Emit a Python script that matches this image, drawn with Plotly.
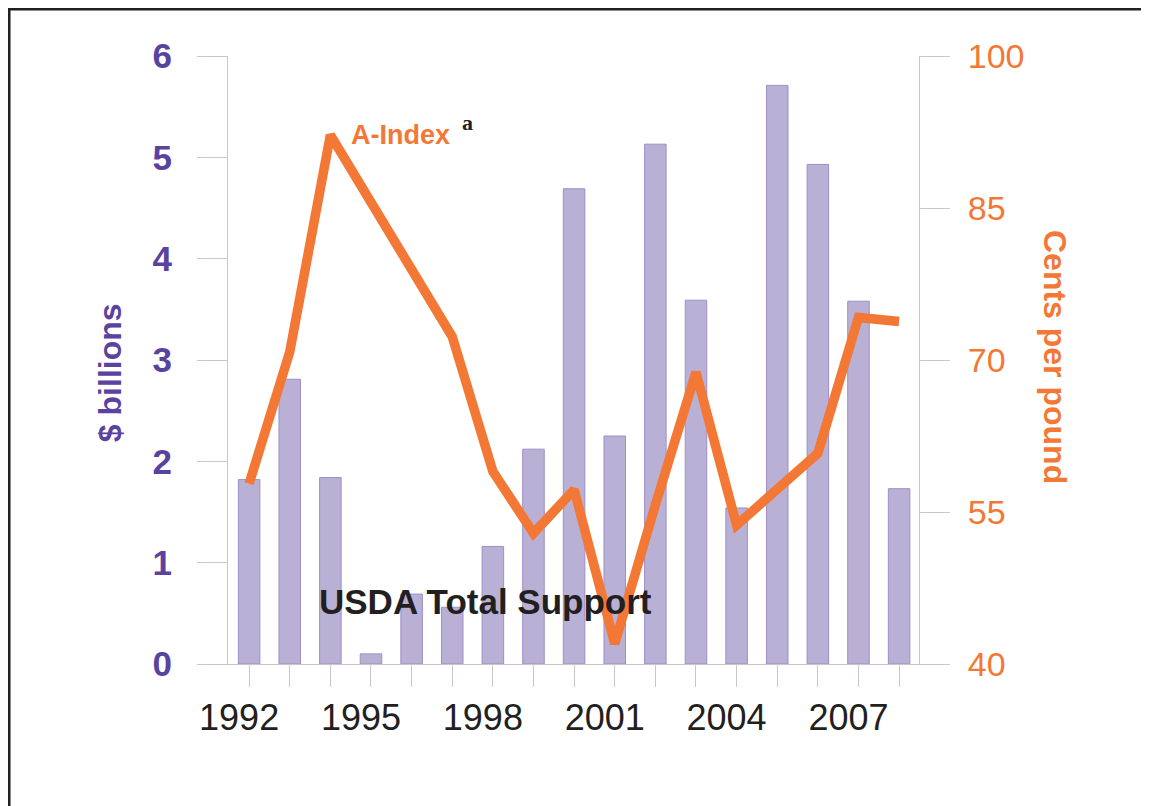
import plotly.graph_objects as go

years = list(range(1992, 2009))
usda_support = [1.82, 2.81, 1.84, 0.10, 0.69, 0.56, 1.16, 2.12, 4.69, 2.25,
                5.13, 3.59, 1.54, 5.71, 4.93, 3.58, 1.73]
a_index = [57.8, 70.8, 92.2, 85.6, 79.0, 72.3, 59.0, 52.9, 57.2, 42.0,
           55.7, 68.8, 53.7, 57.3, 60.8, 74.2, 73.8]
xtick_labels = [str(y) + "\u00a0\u00a0" if (y - 1992) % 3 == 0 else "" for y in years]

PURPLE = "#5a43a0"
ORANGE = "#f47835"
BAR = "#b9b0d6"
BAR_EDGE = "#9d8fc6"
AXIS = "#cdc6c6"
DARK = "#231f20"
FONT = "Liberation Sans, Arial, sans-serif"

fig = go.Figure()
fig.add_trace(go.Bar(x=years, y=usda_support, width=0.53,
                     marker=dict(color=BAR, line=dict(color=BAR_EDGE, width=1)),
                     yaxis="y", showlegend=False, hoverinfo="skip"))
fig.add_trace(go.Scatter(x=years, y=a_index, mode="lines",
                         line=dict(color=ORANGE, width=9.5),
                         yaxis="y2", showlegend=False, hoverinfo="skip"))

fig.update_layout(
    width=1141, height=798, autosize=False,
    margin=dict(l=220, r=230, t=48, b=142),
    paper_bgcolor="white", plot_bgcolor="white",
    font=dict(family=FONT),
    xaxis=dict(range=[1991.48, 2008.49], tickmode="array", tickvals=years,
               ticktext=xtick_labels, ticks="outside", ticklen=22, tickwidth=1,
               tickcolor=AXIS, showline=True, linecolor=AXIS, linewidth=1,
               showgrid=False, zeroline=False,
               tickfont=dict(size=36, color=DARK, family=FONT)),
    yaxis=dict(range=[0, 6], tickvals=[0, 1, 2, 3, 4, 5, 6], ticks="outside",
               ticklen=30, tickcolor=AXIS, showline=True, linecolor=AXIS,
               showgrid=False, zeroline=False, ticklabelstandoff=18,
               tickfont=dict(size=35, color=PURPLE, family=FONT, weight="bold")),
    yaxis2=dict(range=[40, 100], tickvals=[40, 55, 70, 85, 100], overlaying="y",
                side="right", ticks="outside", ticklen=30, tickcolor=AXIS,
                showline=True, linecolor=AXIS, showgrid=False, zeroline=False,
                ticklabelstandoff=11,
                tickfont=dict(size=34, color=ORANGE, family=FONT)),
    annotations=[
        dict(text="<b>A-Index</b>", x=0.249, y=0.870, xref="paper", yref="paper",
             showarrow=False, font=dict(size=27, color=ORANGE, family=FONT),
             xanchor="center", yanchor="middle"),
        dict(text="<b>a</b>", x=0.347, y=0.890, xref="paper", yref="paper",
             showarrow=False, font=dict(size=22, color=DARK, family="Liberation Serif, Times New Roman, serif"),
             xanchor="center", yanchor="middle"),
        dict(text="<b>USDA Total Support</b>", x=0.373, y=0.103, xref="paper", yref="paper",
             showarrow=False, font=dict(size=35, color=DARK, family=FONT),
             xanchor="center", yanchor="middle"),
        dict(text="<b>$ billions</b>", x=-0.1708, y=0.480, xref="paper", yref="paper",
             showarrow=False, textangle=-90, font=dict(size=32, color=PURPLE, family=FONT),
             xanchor="center", yanchor="middle"),
        dict(text="<b>Cents per pound</b>", x=1.1968, y=0.505, xref="paper", yref="paper",
             showarrow=False, textangle=90, font=dict(size=32, color=ORANGE, family=FONT),
             xanchor="center", yanchor="middle"),
    ],
    shapes=[
        dict(type="rect", xref="paper", yref="paper", x0=-0.3169, y0=-0.4,
             x1=1.45, y1=1.0773, line=dict(color=DARK, width=3), fillcolor="rgba(0,0,0,0)",
             layer="below"),
    ],
)

fig.write_html("out.html")
